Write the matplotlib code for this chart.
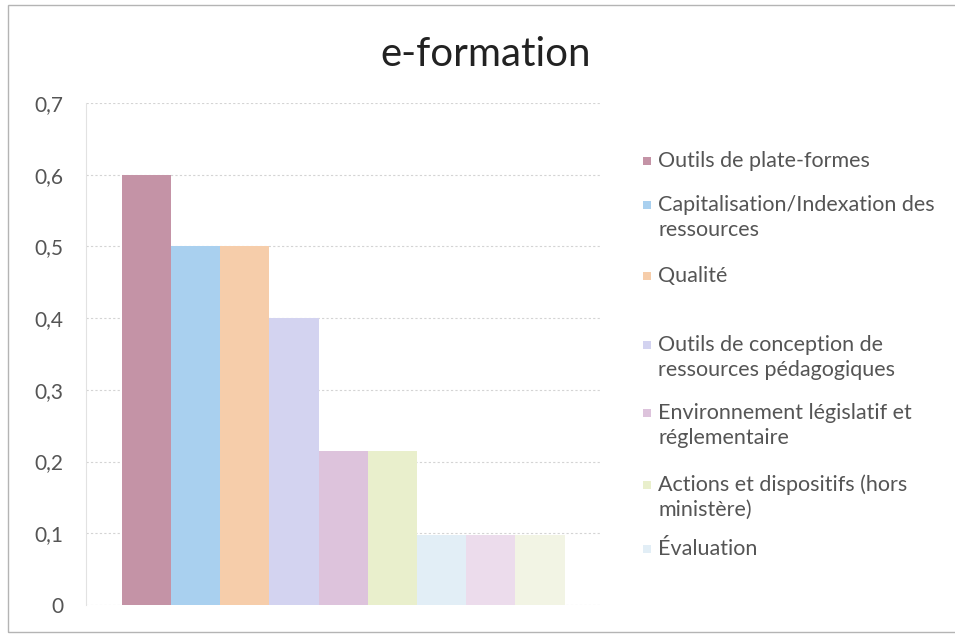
import matplotlib.pyplot as plt
from matplotlib.patches import Rectangle
from matplotlib.ticker import FuncFormatter

plt.rcParams['font.family'] = ['Lato', 'DejaVu Sans']

# data
values = [0.6, 0.5, 0.5, 0.4, 0.215, 0.215, 0.097, 0.097, 0.097]
colors = ['#c493a6', '#a9d0ef', '#f6cdaa', '#d3d3f0', '#ddc3dc',
          '#e9efcc', '#e2eef6', '#ecdcec', '#f2f4e4']
labels = ['Outils de plate-formes',
          'Capitalisation/Indexation des\nressources',
          'Qualité',
          'Outils de conception de\nressources pédagogiques',
          'Environnement législatif et\nréglementaire',
          'Actions et dispositifs (hors\nministère)',
          'Évaluation']
title = 'e-formation'

W, H = 955, 637
fig = plt.figure(figsize=(W / 100, H / 100), dpi=100)
ax = fig.add_axes([86 / W, 1 - 605 / H, (600 - 86) / W, (605 - 103) / H])

for i, (v, c) in enumerate(zip(values, colors)):
    ax.bar(i, v, width=1.0, color=c, edgecolor='none', zorder=2)

ax.set_xlim(-1.23, 9.22)
ax.set_ylim(0, 0.7)
ax.set_yticks([0, 0.1, 0.2, 0.3, 0.4, 0.5, 0.6, 0.7])
ax.yaxis.set_major_formatter(FuncFormatter(
    lambda y, _: '0' if y == 0 else f'{y:.1f}'.replace('.', ',')))
ax.set_xticks([])
ax.tick_params(axis='y', length=0, pad=16.5, labelsize=15, labelcolor='#555555')
ax.grid(axis='y', color='#d4d4d4', linestyle=(0, (2, 2)), linewidth=0.8, zorder=0)
for s in ['top', 'right', 'bottom']:
    ax.spines[s].set_visible(False)
ax.spines['left'].set_color('#e2e2e2')
ax.spines['left'].set_linewidth(0.8)

fig.text(486 / W, 1 - 54 / H, title, ha='center', va='center',
         fontsize=29, color='#222222')

# legend (manual layout like the Excel one)
leg_y = [161, 205, 276, 345, 413, 485, 549]
for lab, c, y in zip(labels, colors, leg_y):
    fig.add_artist(Rectangle((643 / W, 1 - (y + 4) / H), 8 / W, 8 / H,
                             transform=fig.transFigure, facecolor=c,
                             edgecolor='none'))
    for k, line in enumerate(lab.split('\n')):
        fig.text(658 / W, 1 - (y + 25 * k) / H, line, ha='left', va='center',
                 fontsize=15.5, color='#555555')

# outer frame
fig.add_artist(Rectangle((8 / W, 5 / H), 960 / W, 627 / H,
                         transform=fig.transFigure, facecolor='none',
                         edgecolor='#b4b4b4', linewidth=1))

fig.savefig('out.png', dpi=100)
